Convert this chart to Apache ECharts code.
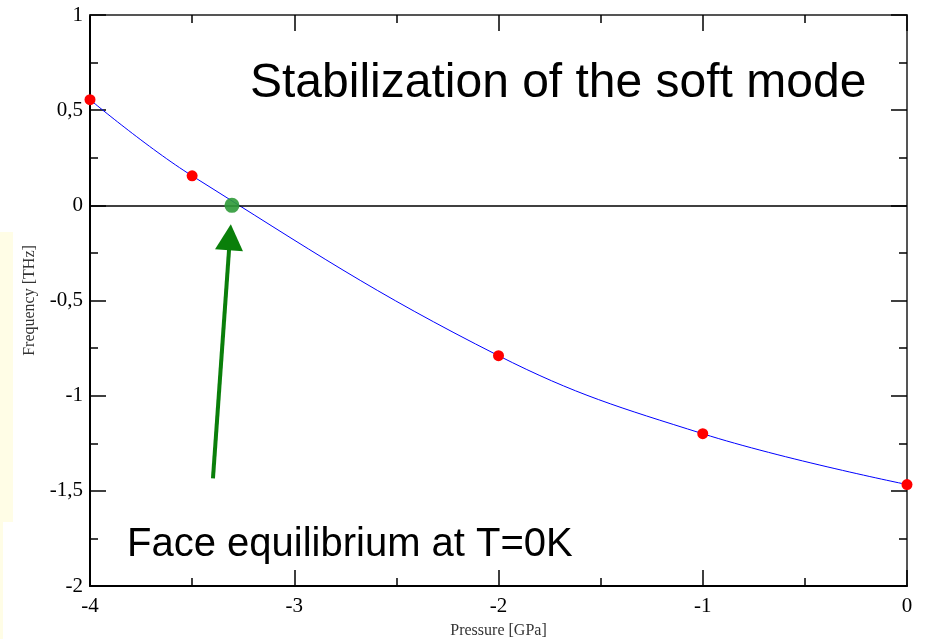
<!DOCTYPE html>
<html>
<head>
<meta charset="utf-8">
<script src="https://cdn.jsdelivr.net/npm/echarts@6/dist/echarts.min.js"></script>
<style>html,body{margin:0;padding:0;background:#fff}#c{width:930px;height:639px}</style>
</head>
<body>
<div id="c"></div>
<script>
// Data
var pressure = [-4, -3.5, -2, -1, 0];
var frequency = [0.555, 0.155, -0.79, -1.2, -1.467];
var crossing = [-3.305, 0];
var xTicks = [-4, -3, -2, -1, 0];
var yTicks = [1, 0.5, 0, -0.5, -1, -1.5, -2];
var arrowFrom = [-3.398, -1.434];
var arrowTo = [-3.315, -0.168];

var fmt = function (v) { return String(v).replace('.', ','); };
var serif = '"Liberation Serif", "DejaVu Serif", serif';
var sans = '"Liberation Sans", Arial, sans-serif';

var chart = echarts.init(document.getElementById('c'));
var pts = pressure.map(function (p, i) { return [p, frequency[i]]; });

function axisBase(showLabel, color) {
  return {
    type: 'value',
    axisLine: { show: true, onZero: false, lineStyle: { color: color, width: 2 } },
    axisTick: { show: true, inside: true, length: 16, lineStyle: { color: '#000', width: 1.5 } },
    minorTick: { show: true, splitNumber: 2, length: 8, lineStyle: { color: '#000', width: 1.5 } },
    splitLine: { show: false },
    axisLabel: { show: showLabel, fontFamily: serif, fontSize: 21, color: '#000', formatter: fmt }
  };
}

var xB = axisBase(true, '#000');
xB.min = -4; xB.max = 0; xB.interval = 1; xB.position = 'bottom';
xB.axisLabel.margin = 10;
xB.name = 'Pressure [GPa]'; xB.nameLocation = 'middle'; xB.nameGap = 37;
xB.nameTextStyle = { fontFamily: serif, fontSize: 16, color: '#333' };
var xT = axisBase(false, '#555');
xT.min = -4; xT.max = 0; xT.interval = 1; xT.position = 'top';

var yL = axisBase(true, '#000');
yL.min = -2; yL.max = 1; yL.interval = 0.5; yL.position = 'left';
yL.axisLabel.margin = 7;
yL.name = 'Frequency [THz]'; yL.nameLocation = 'middle'; yL.nameGap = 52;
yL.nameTextStyle = { fontFamily: serif, fontSize: 16, color: '#333' };
var yR = axisBase(false, '#555');
yR.min = -2; yR.max = 1; yR.interval = 0.5; yR.position = 'right';

chart.setOption({
  animation: false,
  backgroundColor: '#fff',
  grid: { left: 90, right: 23, top: 15, bottom: 53, outerBoundsMode: 'none', containLabel: false },
  xAxis: [xB, xT],
  yAxis: [yL, yR],
  series: [
    {
      type: 'line', data: pts, smooth: 0.4, showSymbol: false, silent: true,
      lineStyle: { color: '#0000ff', width: 1 },
      markLine: {
        silent: true, symbol: ['none', 'none'], label: { show: false },
        lineStyle: { color: '#000', width: 1.5, type: 'solid' },
        data: [{ yAxis: 0 }]
      },
      z: 3
    },
    {
      type: 'scatter', data: pts, symbol: 'circle', symbolSize: 11,
      itemStyle: { color: '#ff0000', opacity: 1 }, z: 4
    },
    {
      type: 'scatter', data: [crossing], symbol: 'circle', symbolSize: 15,
      itemStyle: { color: '#2f9a38', opacity: 0.9 }, z: 5,
      markLine: {
        silent: true, symbol: ['none', 'triangle'], symbolSize: [28, 26], label: { show: false },
        lineStyle: { color: '#0a7f0a', width: 4, type: 'solid', opacity: 1 },
        data: [[{ coord: arrowFrom }, { coord: arrowTo }]]
      }
    }
  ],
  graphic: [
    { type: 'rect', left: 0, top: 232, shape: { width: 13, height: 290 }, style: { fill: '#fffde6' }, z: -10 },
    { type: 'rect', left: 0, top: 522, shape: { width: 3, height: 117 }, style: { fill: '#fffde6' }, z: -10 },
    { type: 'text', x: 250, y: 84, style: { text: 'Stabilization of the soft mode', font: '48px ' + sans, fill: '#000', verticalAlign: 'middle' }, z: 10 },
    { type: 'text', x: 127, y: 545, style: { text: 'Face equilibrium at T=0K', font: '40px ' + sans, fill: '#000', verticalAlign: 'middle' }, z: 10 }
  ]
});
</script>
</body>
</html>
